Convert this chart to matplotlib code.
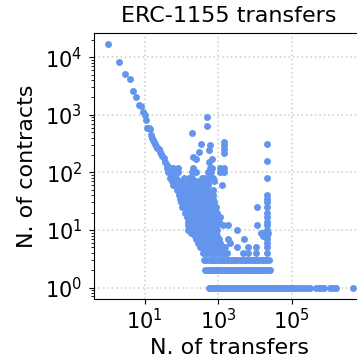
import numpy as np
import matplotlib
matplotlib.use("Agg")
import matplotlib.pyplot as plt

# contratos por cantidad de transferencias, leido del grafico
# cola diagonal: transferencias exactas
tail_x = [1, 2, 3, 4, 5, 6, 7, 8, 9, 10, 11, 12, 13, 14, 15, 16, 17, 18, 19, 20, 22, 24, 26, 28, 30, 33, 36, 40, 45]
tail_y = [17000, 8100, 5100, 4100, 2600, 2000, 1450, 1400, 1100, 980, 810, 600, 590, 560, 450, 400, 370, 340, 310, 290, 270, 250, 225, 210, 190, 175, 150, 135, 105]

# filas densas: n. de contratos y log10 de las transferencias
row_y = [1, 2, 3, 4, 5, 6, 7, 8, 9, 10, 12, 14, 17, 20, 25, 30, 35, 40, 50, 60, 70, 80, 100, 120]
row_logx = [
    [2.75, 2.8, 2.85, 2.9, 2.95, 3.0, 3.05, 3.1, 3.15, 3.2, 3.25, 3.3, 3.35, 3.4, 3.45, 3.5, 3.55, 3.6, 3.65, 3.7, 3.75, 3.8, 3.85, 3.9, 3.95, 4.0, 4.05, 4.1, 4.15, 4.2, 4.25, 4.3, 4.35, 4.4, 4.45, 4.5, 4.55, 4.6, 4.65, 4.7, 4.75, 4.8, 4.85, 4.9, 4.95, 5.0, 5.05, 5.12, 5.2, 5.27, 5.34, 5.42, 5.5, 5.66, 5.73, 5.8, 5.88, 6.03, 6.12, 6.2, 6.65],
    [2.64, 2.7, 2.75, 2.8, 2.85, 2.9, 2.95, 3.0, 3.05, 3.1, 3.15, 3.2, 3.25, 3.3, 3.35, 3.4, 3.45, 3.5, 3.55, 3.6, 3.65, 3.7, 3.75, 3.8, 3.85, 3.9, 3.95, 4.0, 4.05, 4.1, 4.15, 4.2, 4.25, 4.3, 4.35, 4.41],
    [2.62, 2.68, 2.74, 2.8, 2.86, 2.92, 2.98, 3.04, 3.1, 3.16, 3.22, 3.28, 3.34, 3.4, 3.46, 3.52, 3.58, 3.64, 3.7, 3.76, 3.82, 3.88, 3.94, 4.0, 4.06, 4.12, 4.18, 4.24, 4.3, 4.37],
    [2.59, 2.65, 2.71, 2.77, 2.83, 2.89, 2.95, 3.01, 3.07, 3.13, 3.19, 3.25, 3.67, 3.82, 4.02, 4.32],
    [2.52, 2.58, 2.64, 2.7, 2.76, 2.82, 2.88, 2.94, 3.0, 3.06, 3.12, 3.18, 3.5, 3.8, 4.02, 4.32],
    [2.45, 2.51, 2.57, 2.63, 2.69, 2.75, 2.81, 2.87, 2.93, 2.99, 3.05, 3.33, 4.32],
    [2.41, 2.47, 2.53, 2.59, 2.65, 2.71, 2.77, 2.83, 2.89, 2.95, 3.01, 3.27, 3.7, 4.32],
    [2.36, 2.42, 2.48, 2.54, 2.6, 2.66, 2.72, 2.78, 2.84, 2.9, 2.96, 4.22, 4.32],
    [2.27, 2.33, 2.39, 2.45, 2.51, 2.57, 2.63, 2.69, 2.75, 2.81, 2.87, 2.93, 4.15, 4.25, 4.36],
    [2.18, 2.24, 2.3, 2.36, 2.42, 2.48, 2.54, 2.6, 2.66, 2.72, 2.78, 2.84, 2.9, 2.96, 3.51, 4.32],
    [2.18, 2.26, 2.34, 2.42, 2.5, 2.58, 2.66, 2.74, 2.82, 2.9, 2.96, 3.14, 3.28, 4.05, 4.32],
    [2.18, 2.26, 2.34, 2.42, 2.5, 2.58, 2.66, 2.74, 2.82, 2.9, 3.03, 4.32],
    [2.14, 2.22, 2.3, 2.38, 2.46, 2.54, 2.62, 2.7, 2.78, 2.86, 2.96, 3.05, 4.32],
    [2.09, 2.17, 2.25, 2.33, 2.41, 2.49, 2.57, 2.65, 2.73, 2.81, 2.89, 2.97, 4.32],
    [2.03, 2.11, 2.19, 2.27, 2.35, 2.43, 2.51, 2.59, 2.67, 2.75, 2.83, 2.93, 4.05, 4.32],
    [2.0, 2.08, 2.16, 2.24, 2.32, 2.4, 2.48, 2.56, 2.64, 2.72, 2.8, 2.9, 4.32],
    [1.97, 2.05, 2.13, 2.21, 2.29, 2.37, 2.45, 2.53, 2.61, 2.69, 2.77, 2.87, 4.32],
    [1.94, 2.02, 2.1, 2.18, 2.26, 2.35, 2.45, 2.55, 2.65, 2.75, 2.85, 4.32],
    [1.87, 1.95, 2.03, 2.11, 2.2, 2.3, 2.4, 2.5, 2.6, 2.7, 2.85],
    [1.78, 1.86, 1.94, 2.02, 2.1, 2.24, 2.34, 2.44, 2.54, 2.62, 2.72, 3.1],
    [1.74, 1.82, 1.9, 1.98, 2.2, 2.3, 2.4, 2.5, 2.62, 2.72, 2.9],
    [1.7, 1.78, 1.86, 2.06, 2.2, 2.3, 2.55, 2.65, 2.75, 2.85, 4.32],
    [1.64, 1.72, 1.8, 1.92, 2.3, 2.4, 2.72, 2.8, 3.04, 3.17],
    [1.6, 1.68, 1.76, 1.92, 2.31, 2.78, 2.84, 3.04, 3.17],
]

# puntos sueltos de arriba (x exacto, y exacto)
top_x = [513, 513, 200, 339, 309, 603, 575, 1445, 1445, 1445, 1445, 20900, 20900, 204, 251, 676, 550]
top_y = [920, 630, 480, 316, 229, 295, 240, 339, 295, 250, 219, 316, 158, 186, 174, 174, 151]

fig = plt.figure(figsize=(3.57, 3.61), dpi=100)
ax = fig.add_axes([94 / 357, 1 - 298.5 / 361, 270 / 357, 265.5 / 361])

dot = dict(s=25, color="cornflowerblue", linewidths=0, zorder=3)
ax.scatter(tail_x, tail_y, **dot)
for y, logx in zip(row_y, row_logx):
    ax.scatter(10 ** np.array(logx), [y] * len(logx), **dot)
ax.scatter(top_x, top_y, **dot)

ax.set_xscale("log")
ax.set_yscale("log")
ax.set_xticks([1e1, 1e3, 1e5])
ax.xaxis.set_minor_locator(matplotlib.ticker.NullLocator())
ax.set_xlim(10 ** -0.372, 10 ** 6.96)
ax.set_ylim(10 ** -0.19, 10 ** 4.42)
ax.grid(True, which="major", linestyle=":", color="lightgray", linewidth=1.2)
ax.set_axisbelow(True)
ax.tick_params(labelsize=15)
ax.tick_params(axis="y", which="major", pad=5)
ax.set_xlabel("N. of transfers", fontsize=16, labelpad=3.5)
ax.set_ylabel("N. of contracts", fontsize=16, labelpad=6)
ax.set_title("ERC-1155 transfers", fontsize=16, pad=8)

fig.savefig("out.png", dpi=100)
